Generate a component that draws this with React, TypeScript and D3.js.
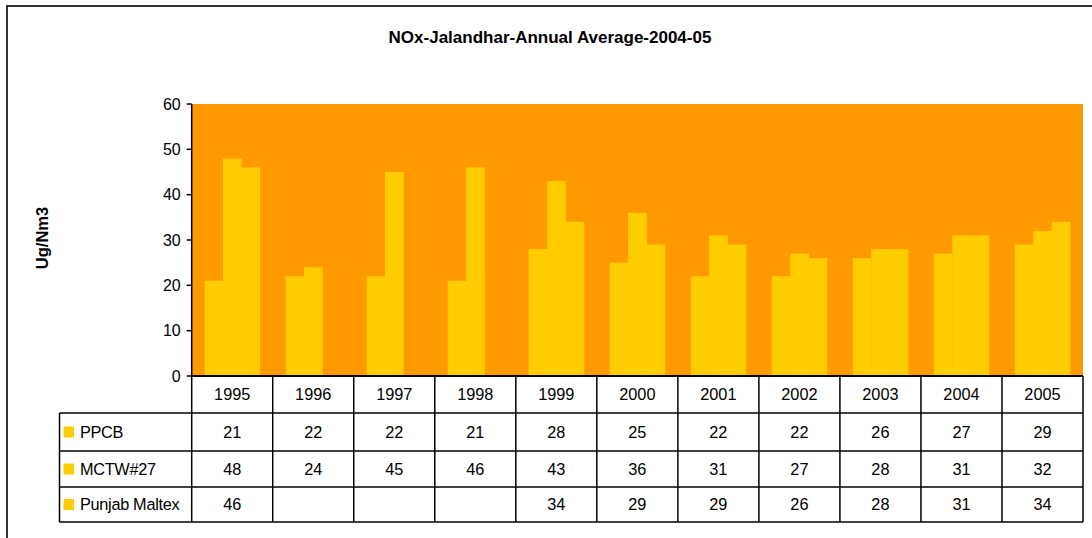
import React from "react";
import * as d3 from "d3";

const title = "NOx-Jalandhar-Annual Average-2004-05";
const yAxisTitle = "Ug/Nm3";
const years = ["1995", "1996", "1997", "1998", "1999", "2000", "2001", "2002", "2003", "2004", "2005"];
const seriesNames = ["PPCB", "MCTW#27", "Punjab Maltex"];
const ppcb: (number | null)[] = [21, 22, 22, 21, 28, 25, 22, 22, 26, 27, 29];
const mctw: (number | null)[] = [48, 24, 45, 46, 43, 36, 31, 27, 28, 31, 32];
const punjab: (number | null)[] = [46, null, null, null, 34, 29, 29, 26, 28, 31, 34];
const yTicks = [0, 10, 20, 30, 40, 50, 60];

const W = 1092;
const H = 538;
const FONT = "'Liberation Sans', Arial, sans-serif";

export default function App() {
  const series = [ppcb, mctw, punjab];
  const left = 191.7;
  const right = 1083;
  const top = 104;
  const bottom = 376;
  const x = d3.scaleBand<string>().domain(years).range([left, right]).paddingInner(0).paddingOuter(0);
  const y = d3.scaleLinear().domain([0, 60]).range([bottom, top]);
  const cw = x.bandwidth();
  const gapRatio = 1.4;
  const bw = cw / (series.length + gapRatio);
  const off = (cw - bw * series.length) / 2;
  const rowEdges = [bottom, 413, 451, 487, 522];
  const tableLeft = 59.5;
  const fs = 16.3;

  return (
    <svg width={W} height={H} style={{ position: "absolute", left: 0, top: 0 }} fontFamily={FONT}>
      <rect x={0} y={0} width={W} height={H} fill="#fff" />
      <rect x={7} y={6} width={1200} height={700} fill="none" stroke="#000" strokeWidth={1.6} />
      <text x={550} y={43} textAnchor="middle" fontSize={17} fontWeight="bold" fill="#000">{title}</text>
      <text transform={`translate(48,238) rotate(-90)`} textAnchor="middle" fontSize={16.5} fontWeight="bold" fill="#000">{yAxisTitle}</text>
      {/* plot area */}
      <rect x={left} y={top} width={right - left} height={bottom - top} fill="#FF9900" />
      {series.map((vals, si) =>
        vals.map((v, i) =>
          v == null ? null : (
            <rect key={`${si}-${i}`} x={(x(years[i]) as number) + off + si * bw} y={y(v)} width={bw + 0.3} height={bottom - y(v)} fill="#FFCC00" />
          )
        )
      )}
      {/* y axis */}
      <line x1={left} x2={left} y1={top} y2={bottom} stroke="#000" strokeWidth={1.5} />
      {yTicks.map((t) => (
        <g key={t}>
          <line x1={left - 5} x2={left} y1={y(t)} y2={y(t)} stroke="#000" strokeWidth={1.5} />
          <text x={left - 11} y={y(t)} dy="0.36em" textAnchor="end" fontSize={16} fill="#000">{t}</text>
        </g>
      ))}
      {/* data table */}
      <line x1={left} x2={right} y1={bottom} y2={bottom} stroke="#000" strokeWidth={1.8} />
      {rowEdges.slice(1).map((ry, i) => (
        <line key={`h${i}`} x1={tableLeft} x2={right} y1={ry} y2={ry} stroke="#000" strokeWidth={1.5} />
      ))}
      <line x1={tableLeft} x2={tableLeft} y1={rowEdges[1]} y2={rowEdges[4]} stroke="#000" strokeWidth={1.5} />
      {years.map((yr, i) => (
        <line key={`v${i}`} x1={x(yr) as number} x2={x(yr) as number} y1={bottom} y2={rowEdges[4]} stroke="#000" strokeWidth={1.5} />
      ))}
      <line x1={right} x2={right} y1={bottom} y2={rowEdges[4]} stroke="#000" strokeWidth={1.5} />
      {years.map((yr) => (
        <text key={`yr${yr}`} x={(x(yr) as number) + cw / 2} y={(rowEdges[0] + rowEdges[1]) / 2} dy="0.36em" textAnchor="middle" fontSize={fs} fill="#000">{yr}</text>
      ))}
      {seriesNames.map((name, si) => {
        const cy = (rowEdges[si + 1] + rowEdges[si + 2]) / 2;
        return (
          <g key={name}>
            <rect x={63.5} y={cy - 5.5} width={10.5} height={11} fill="#FFCC00" />
            <text x={80} y={cy} dy="0.36em" fontSize={fs} fill="#000" letterSpacing={-0.3}>{name}</text>
            {series[si].map((v, i) =>
              v == null ? null : (
                <text key={i} x={(x(years[i]) as number) + cw / 2} y={cy} dy="0.36em" textAnchor="middle" fontSize={fs} fill="#000">{v}</text>
              )
            )}
          </g>
        );
      })}
    </svg>
  );
}
